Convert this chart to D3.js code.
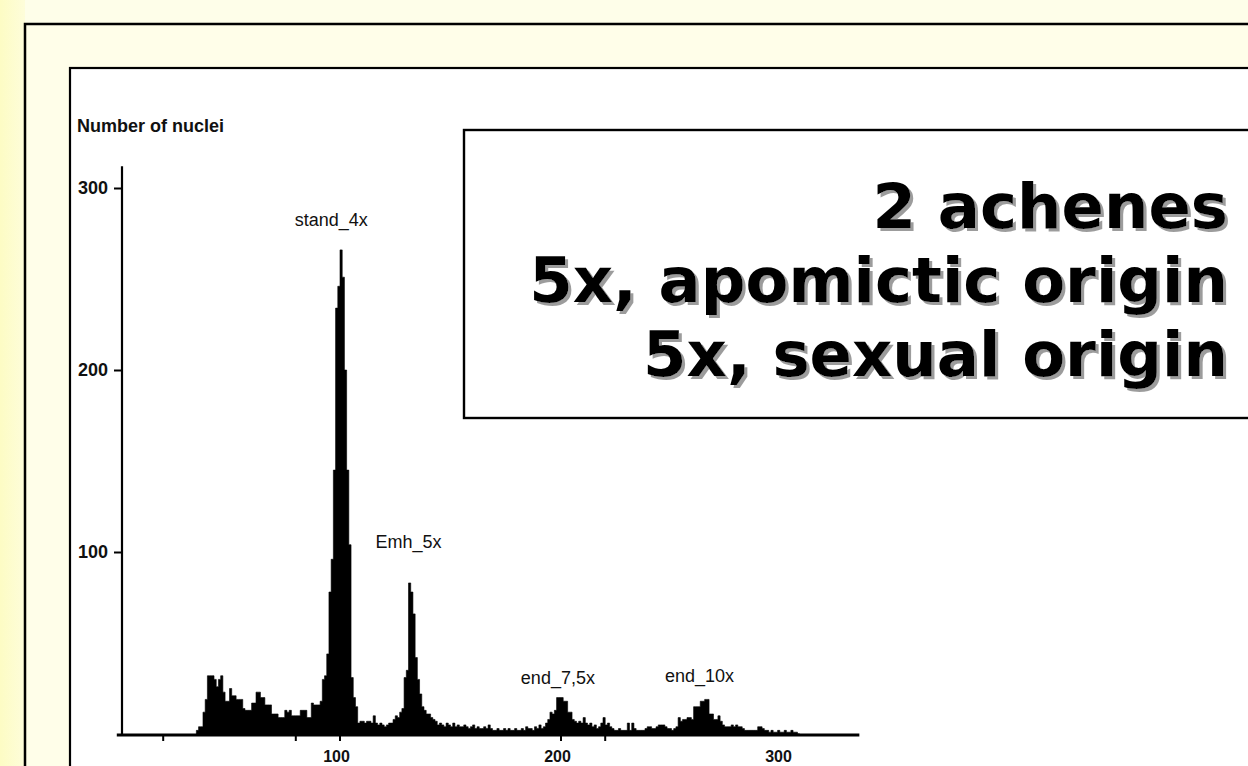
<!DOCTYPE html>
<html>
<head>
<meta charset="utf-8">
<script src="https://cdn.jsdelivr.net/npm/d3@7"></script>
<style>
  html, body { margin: 0; padding: 0; background: #fefee8; }
  svg { display: block; }
</style>
</head>
<body>
<svg id="chart" width="1248" height="766"></svg>
<script>
// Flow-cytometry histogram: relative DNA content vs number of nuclei
const binStart = 35;   // first channel of the histogram
const counts = [
  2, 4, 4, 12, 19, 32, 32, 32, 30, 26, 30, 32, 23, 18, 18, 25, 21, 21, 19, 19,
  19, 14, 13, 13, 13, 17, 17, 23, 23, 20, 20, 16, 16, 16, 11, 11, 11, 9, 9, 9,
  13, 12, 13, 10, 10, 10, 10, 13, 13, 13, 9, 9, 17, 16, 16, 16, 18, 30, 32, 44,
  78, 96, 145, 234, 246, 266, 251, 200, 145, 104, 31, 20, 15, 6, 7, 7, 6, 7, 7, 6,
  10, 6, 5, 6, 5, 4, 5, 6, 6, 8, 10, 9, 12, 14, 31, 35, 83, 78, 66, 42,
  30, 22, 15, 13, 11, 11, 9, 8, 7, 5, 6, 5, 4, 6, 5, 4, 6, 4, 5, 4,
  4, 5, 4, 3, 4, 5, 3, 4, 3, 3, 4, 3, 5, 3, 2, 2, 3, 2, 2, 3,
  2, 3, 2, 2, 3, 2, 2, 3, 2, 4, 3, 3, 2, 4, 3, 5, 3, 4, 6, 8,
  12, 11, 13, 20, 20, 20, 18, 18, 12, 12, 8, 7, 6, 7, 6, 9, 6, 5, 6, 4,
  5, 3, 4, 6, 9, 5, 6, 4, 3, 2, 2, 3, 2, 2, 2, 6, 2, 6, 3, 2,
  2, 2, 2, 3, 4, 4, 3, 3, 4, 5, 5, 5, 4, 3, 3, 2, 3, 4, 9, 7,
  8, 8, 9, 9, 8, 15, 15, 15, 18, 18, 19, 19, 11, 11, 8, 8, 10, 7, 5, 4,
  4, 4, 5, 4, 5, 4, 4, 3, 2, 2, 2, 2, 2, 2, 4, 4, 3, 2, 2, 1,
  2, 1, 1, 2, 1, 1, 2, 1, 1, 2, 1, 1, 0
];

const yTicks = [100, 200, 300];
const xTicks = [100, 200, 300];
const xMarks = [20, 80, 100, 200, 220];
const peakNames = ["stand_4x", "Emh_5x", "end_7,5x", "end_10x"];
const peakChannels = [96, 131, 198.6, 262.7];
const captionLines = ["2 achenes", "5x, apomictic origin", "5x, sexual origin"];

const svg = d3.select("#chart");

// ---- page background and frames ----
const defs = svg.append("defs");
const grad = defs.append("linearGradient").attr("id", "leftBand")
  .attr("x1", 0).attr("x2", 1).attr("y1", 0).attr("y2", 0);
grad.append("stop").attr("offset", 0).attr("stop-color", "#fdfcc4");
grad.append("stop").attr("offset", 1).attr("stop-color", "#fefdda");

const shadow = defs.append("filter").attr("id", "textShadow")
  .attr("x", "-5%").attr("y", "-20%").attr("width", "115%").attr("height", "150%");
shadow.append("feDropShadow")
  .attr("dx", 3).attr("dy", 3).attr("stdDeviation", 0.4)
  .attr("flood-color", "#9c9c9c").attr("flood-opacity", 1);

svg.append("rect").attr("width", 1248).attr("height", 766).attr("fill", "#fefee9");
svg.append("rect").attr("x", 0).attr("y", 0).attr("width", 25).attr("height", 766)
  .attr("fill", "url(#leftBand)");
// outer frame
svg.append("rect").attr("x", 25).attr("y", 24).attr("width", 1400).attr("height", 900)
  .attr("fill", "#fffee9").attr("stroke", "#000").attr("stroke-width", 2.5);
// white slide panel
svg.append("rect").attr("x", 70).attr("y", 68).attr("width", 1400).attr("height", 900)
  .attr("fill", "#fff").attr("stroke", "#000").attr("stroke-width", 2.2);

// ---- histogram ----
const x = d3.scaleLinear().domain([0, 300]).range([119, 782]);
const y = d3.scaleLinear().domain([0, 300]).range([734, 188]);

const bins = counts.map((c, i) => ({ ch: binStart + i, n: c }));
bins.push({ ch: binStart + counts.length, n: 0 });

const area = d3.area()
  .curve(d3.curveStepAfter)
  .x(d => x(d.ch))
  .y0(y(0))
  .y1(d => y(d.n));

svg.append("path").datum(bins)
  .attr("d", area)
  .attr("fill", "#000")
  .attr("stroke", "#000")
  .attr("stroke-width", 0.6);

const chartFont = "'Liberation Sans', Arial, sans-serif";
const labelSize = 18;

// y axis
svg.append("line")
  .attr("x1", x(0) + 3).attr("x2", x(0) + 3)
  .attr("y1", y(0)).attr("y2", y(312))
  .attr("stroke", "#000").attr("stroke-width", 2.2);
const yAxis = svg.append("g")
  .attr("transform", `translate(${x(0) + 3},0)`)
  .call(d3.axisLeft(y).tickValues(yTicks).tickSize(8).tickPadding(6).tickFormat(d3.format("d")));
yAxis.select(".domain").remove();
yAxis.selectAll(".tick line").attr("stroke", "#000").attr("stroke-width", 2);
yAxis.selectAll(".tick text")
  .attr("font-family", chartFont).attr("font-size", labelSize).attr("font-weight", "bold")
  .attr("fill", "#111");

svg.append("text")
  .attr("x", 77).attr("y", 132)
  .attr("font-family", chartFont).attr("font-size", labelSize).attr("font-weight", "bold")
  .attr("fill", "#111")
  .text("Number of nuclei");

// x axis
svg.append("line")
  .attr("x1", x(-1)).attr("x2", x(335))
  .attr("y1", y(0) + 1).attr("y2", y(0) + 1)
  .attr("stroke", "#000").attr("stroke-width", 3.2);
const xAxis = svg.append("g")
  .attr("transform", `translate(0,${y(0) + 1})`)
  .call(d3.axisBottom(x).tickValues(xTicks).tickSize(0).tickFormat(d3.format("d")));
xAxis.select(".domain").remove();
xAxis.selectAll(".tick text")
  .attr("y", 27).attr("dy", 0).attr("dx", -4)
  .attr("font-family", chartFont).attr("font-size", 16).attr("font-weight", "bold")
  .attr("fill", "#111");
svg.append("g").selectAll("line")
  .data(xMarks)
  .join("line")
  .attr("x1", d => x(d)).attr("x2", d => x(d))
  .attr("y1", y(0) + 2).attr("y2", y(0) + 7)
  .attr("stroke", "#000").attr("stroke-width", 2);

// peak labels
const peakLabelValue = [279, 102, 27.5, 28.6];
svg.append("g").selectAll("text")
  .data(peakNames)
  .join("text")
  .attr("x", (d, i) => x(peakChannels[i]))
  .attr("y", (d, i) => y(peakLabelValue[i]))
  .attr("text-anchor", "middle")
  .attr("font-family", chartFont).attr("font-size", labelSize)
  .attr("fill", "#111")
  .text(d => d);

// ---- caption box ----
svg.append("rect")
  .attr("x", 464).attr("y", 130).attr("width", 820).attr("height", 288)
  .attr("fill", "#fff").attr("stroke", "#000").attr("stroke-width", 2.4);

const captionFont = "'DejaVu Sans', Verdana, sans-serif";
const baselines = [228, 302, 376];
svg.append("g").selectAll("text")
  .data(captionLines)
  .join("text")
  .attr("x", 1228)
  .attr("y", (d, i) => baselines[i])
  .attr("text-anchor", "end")
  .attr("font-family", captionFont).attr("font-weight", "bold").attr("font-size", 62.5)
  .attr("fill", "#000")
  .attr("filter", "url(#textShadow)")
  .text(d => d);
</script>
</body>
</html>
